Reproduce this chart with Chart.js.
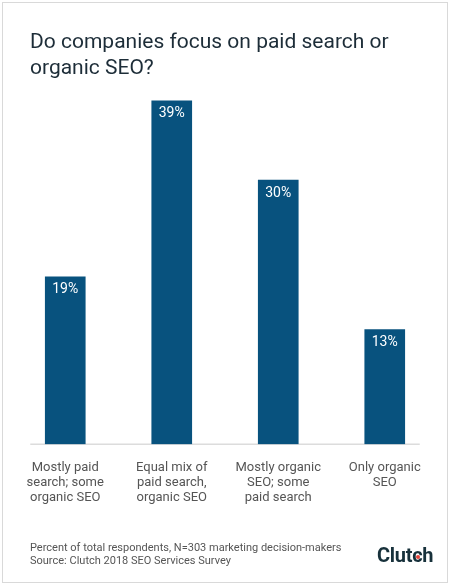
<!DOCTYPE html>
<html>
<head>
<meta charset="utf-8">
<script src="https://cdn.jsdelivr.net/npm/chart.js@4"></script>
<style>
  html, body { margin: 0; padding: 0; background: #fff; }
  body { width: 450px; height: 585px; position: relative; overflow: hidden; font-family: Roboto, sans-serif; }
  #frame { position: absolute; left: 2px; top: 2px; width: 444px; height: 579px; border: 1px solid #d9d9d9; }
  #title { position: absolute; left: 30px; top: 28px; font-size: 21px; line-height: 26px; color: #1d2d38; }
  #chartBox { position: absolute; left: 0; top: 0; width: 450px; height: 585px; }
  #note { position: absolute; left: 30px; top: 541px; font-size: 11px; line-height: 13px; color: #555; }
  #logo { position: absolute; left: 377px; top: 543px; font-size: 20px; font-weight: bold; color: #17313b; letter-spacing: -0.3px; }
  #dot { position: absolute; left: 416px; top: 555px; width: 4px; height: 4px; border-radius: 2px; background: #e5443b; }
</style>
</head>
<body>
<div id="frame"></div>
<div id="chartBox"><canvas id="bar-chart"></canvas></div>
<div id="title">Do companies focus on paid search or<br>organic SEO?</div>
<div id="note">Percent of total respondents, N=303 marketing decision-makers<br>Source: Clutch 2018 SEO Services Survey</div>
<div id="logo">Clutch</div>
<div id="dot"></div>
<script>
const categories = [
    ["Mostly paid", "search; some", "organic SEO"],
    ["Equal mix of", "paid search,", "organic SEO"],
    ["Mostly organic", "SEO; some", "paid search"],
    ["Only organic", "SEO"]
];
const shares = [19, 39, 30, 13];

// baseline under the bars, a bit shorter than the chart area
const baseLine = {
    id: 'baseLine',
    beforeDatasetsDraw(chart) {
        const x = chart.scales.x, y = chart.scales.y;
        const ctx = chart.ctx;
        const yy = y.getPixelForValue(0);
        ctx.save();
        ctx.strokeStyle = '#dcdcdc';
        ctx.lineWidth = 1.5;
        ctx.beginPath();
        ctx.moveTo(x.getPixelForValue(0) - 35, yy);
        ctx.lineTo(x.getPixelForValue(shares.length - 1) + 35, yy);
        ctx.stroke();
        ctx.restore();
    }
};

// white percent labels inside the bar tops
const barLabels = {
    id: 'barLabels',
    afterDatasetsDraw(chart) {
        const ctx = chart.ctx;
        const meta = chart.getDatasetMeta(0);
        ctx.save();
        ctx.fillStyle = '#ffffff';
        ctx.font = '14px Roboto';
        ctx.textAlign = 'center';
        ctx.textBaseline = 'middle';
        meta.data.forEach(function (bar, i) {
            ctx.fillText(shares[i] + '%', bar.x, bar.y + 13);
        });
        ctx.restore();
    }
};

new Chart(document.getElementById("bar-chart"), {
    type: 'bar',
    data: {
        labels: categories,
        datasets: [
            {
                data: shares,
                backgroundColor: '#08527e',
                borderWidth: 0,
                barThickness: 40
            }
        ]
    },
    options: {
        responsive: true,
        maintainAspectRatio: false,
        animation: false,
        layout: {padding: {left: 12, right: 12, top: 92, bottom: 72}},
        plugins: {
            legend: {display: false},
            title: {display: false},
            tooltip: {enabled: false}
        },
        scales: {
            x: {
                grid: {display: false},
                border: {display: false},
                ticks: {
                    color: '#555',
                    font: {family: 'Roboto', size: 13, lineHeight: 1.15},
                    padding: 8,
                    maxRotation: 0,
                    autoSkip: false
                }
            },
            y: {
                display: false,
                min: 0,
                max: 40
            }
        }
    },
    plugins: [baseLine, barLabels]
});
</script>
</body>
</html>
